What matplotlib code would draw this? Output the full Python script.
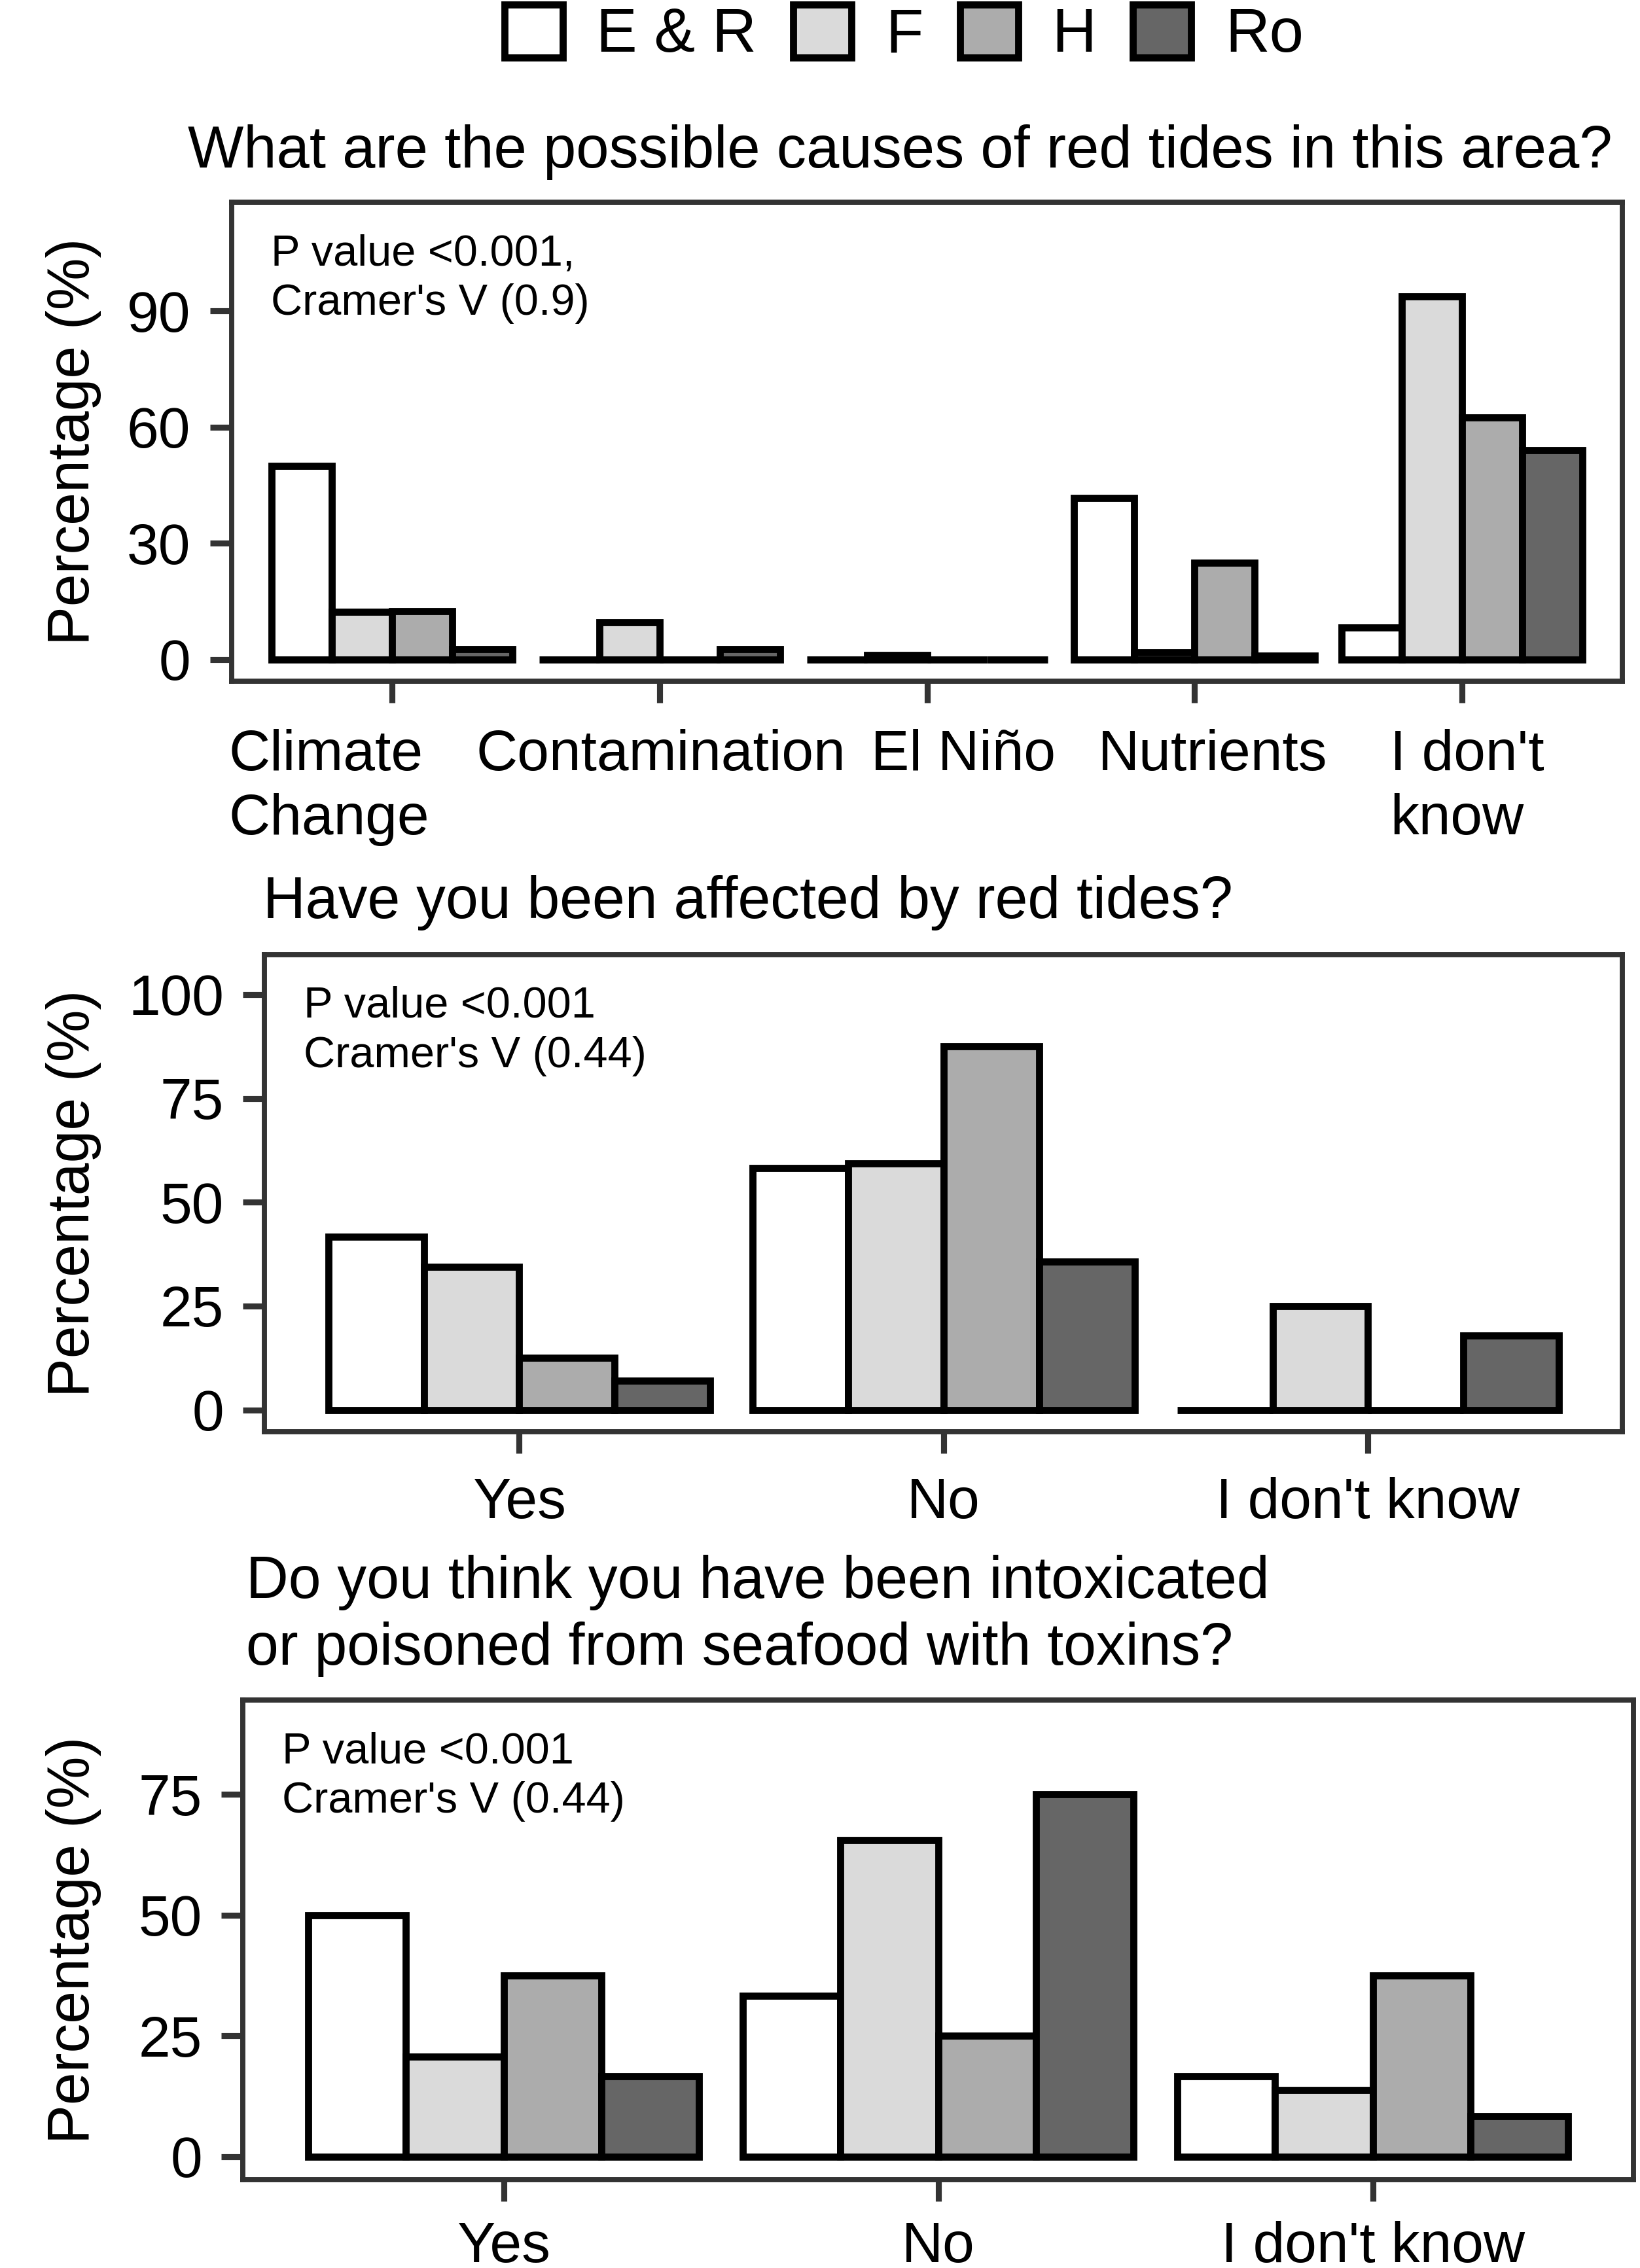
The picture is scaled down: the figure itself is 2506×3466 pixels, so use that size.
import numpy as np
import matplotlib
matplotlib.use('Agg')
import matplotlib.pyplot as plt
from matplotlib.transforms import ScaledTranslation, blended_transform_factory

plt.rcParams['font.family'] = ['Liberation Sans', 'DejaVu Sans']

groups = ['E & R', 'F', 'H', 'Ro']
colors = ['#FFFFFF', '#DADADA', '#ACACAC', '#666666']

# panel 1: possible causes
causes = ['Climate\nChange', 'Contamination', 'El Niño', 'Nutrients', "I don't\nknow"]
causes_er = [50, 0, 0, 41.7, 8.3]
causes_f = [12.4, 9.6, 1.1, 1.8, 93.7]
causes_h = [12.5, 0, 0, 25, 62.5]
causes_ro = [2.7, 2.7, 0, 1.0, 54.0]

# panel 2: affected by red tides
answers = ['Yes', 'No', "I don't know"]
affected_er = [41.7, 58.3, 0]
affected_f = [34.4, 59.4, 25.0]
affected_h = [12.5, 87.5, 0]
affected_ro = [7.1, 35.7, 17.9]

# panel 3: intoxicated
intox_er = [50, 33.3, 16.7]
intox_f = [20.7, 65.5, 13.8]
intox_h = [37.5, 25, 37.5]
intox_ro = [16.7, 75, 8.3]

W, H = 1134, 1568  # reference layout grid
fig = plt.figure(figsize=(2506 / 300, 3466 / 300), dpi=300)

edge = '#333333'


def panel(box, cats, series, ylim, yticks, stat, xpad=8.5):
    l, r, t, b = box
    ax = fig.add_axes([l / W, 1 - b / H, (r - l) / W, (b - t) / H])
    x = np.arange(1, len(cats) + 1)
    w = 0.225
    for i, vals in enumerate(series):
        ax.bar(x + (i - 1.5) * w, vals, width=w, color=colors[i],
               edgecolor='black', linewidth=2.6, label=groups[i], zorder=2)
    ax.set_xlim(0.4, len(cats) + 0.6)
    ax.set_ylim(*ylim)
    ax.set_yticks(yticks)
    ax.set_xticks(x)
    ax.set_xticklabels(cats)
    for s in ax.spines.values():
        s.set_color(edge)
        s.set_linewidth(1.9)
    ax.tick_params(axis='both', length=8, width=2.2, color=edge,
                   labelsize=21, labelcolor='black', pad=7)
    ax.tick_params(axis='x', pad=xpad)
    ax.set_ylabel('Percentage (%)', fontsize=21.5)
    ax.yaxis.label.set_va('center')
    ax.yaxis.set_label_coords((51 - l) / (r - l), 0.5)
    ax.annotate(stat, xy=(0, 1), xycoords='axes fraction',
                xytext=(14.4, -11.5), textcoords='offset points',
                ha='left', va='top', fontsize=16, linespacing=1.29)
    return ax


ax1 = panel((160, 1122, 140, 471), causes,
            [causes_er, causes_f, causes_h, causes_ro],
            (-5.6, 118), [0, 30, 60, 90],
            "P value <0.001,\nCramer's V (0.9)")
# panel 1 labels are left aligned blocks, shifted from ticks
ax1.set_xticklabels([''] * len(causes))
label_dx = [-0.61, -0.686, -0.21, -0.36, -0.27]
trans = blended_transform_factory(ax1.transData, ax1.transAxes) + \
    ScaledTranslation(0, -17.5 / 72, fig.dpi_scale_trans)
for xi, lab, dx in zip(np.arange(1, 6), causes, label_dx):
    ax1.text(xi + dx, 0, lab, transform=trans, ha='left', va='top',
             fontsize=21, linespacing=1.27)

ax2 = panel((183, 1122, 660, 990), answers,
            [affected_er, affected_f, affected_h, affected_ro],
            (-5.3, 109.6), [0, 25, 50, 75, 100],
            "P value <0.001\nCramer's V (0.44)")

ax3 = panel((168, 1129.5, 1175.5, 1507), answers,
            [intox_er, intox_f, intox_h, intox_ro],
            (-4.8, 94.5), [0, 25, 50, 75],
            "P value <0.001\nCramer's V (0.44)", xpad=7.2)

fig.text(130 / W, 1 - 86 / H, 'What are the possible causes of red tides in this area?',
         ha='left', va='top', fontsize=21.7)
fig.text(182 / W, 1 - 605 / H, 'Have you been affected by red tides?',
         ha='left', va='top', fontsize=21.5)
fig.text(170 / W, 1 - 1075 / H,
         'Do you think you have been intoxicated\nor poisoned from seafood with toxins?',
         ha='left', va='top', fontsize=21.5, linespacing=1.26)

handles, labels = ax1.get_legend_handles_labels()
fig.legend(handles, labels, loc='center', bbox_to_anchor=(625 / W, 1 - 24 / H),
           ncol=4, frameon=False, fontsize=22.5, handlelength=0.95,
           handleheight=0.95, handletextpad=0.55, columnspacing=0.6,
           borderpad=0, borderaxespad=0)

fig.savefig('out.png', dpi=300)
